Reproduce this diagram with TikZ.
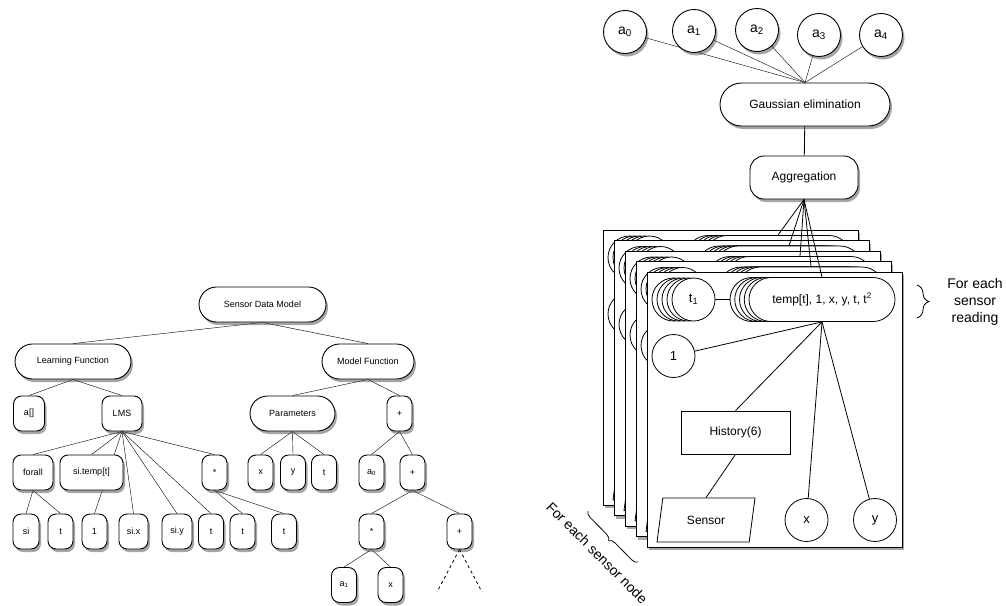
\documentclass[tikz,border=0pt]{standalone}
\usepackage{fontspec}
\setmainfont{Liberation Sans}
\usetikzlibrary{shapes.geometric, shapes.misc, shadows, backgrounds, decorations.pathreplacing}
\tikzset{
	shade/.style    ={drop shadow={shadow xshift=2pt, shadow yshift=-3pt, fill=black!70, opacity=0.5}},
	% left tree
	leaf/.style     ={rectangle, rounded corners=8pt, draw=black, line width=0.9pt, fill=white, minimum width=25pt, minimum height=35pt, inner sep=2pt, align=center, font=\fontsize{9}{11}\selectfont, shade},
	pill/.style     ={rounded rectangle, draw=black, line width=0.9pt, fill=white, minimum height=35pt, inner sep=2pt, align=center, font=\fontsize{9}{11}\selectfont, shade},
	% right side
	coef/.style     ={circle, draw=black, line width=0.9pt, fill=white, minimum size=43pt, inner sep=0pt, font=\fontsize{14}{16}\selectfont, shade},
	solver/.style   ={rounded rectangle, draw=black, line width=0.9pt, fill=white, minimum height=43pt, inner sep=2pt, shade},
	merge/.style    ={rectangle, rounded corners=14pt, draw=black, line width=0.9pt, fill=white, minimum height=43pt, inner sep=2pt, shade},
	page/.style     ={rectangle, draw=black, line width=0.9pt, fill=white, minimum width=255pt, minimum height=275pt, inner sep=0pt, shade},
	ring/.style     ={circle, draw=black, line width=0.8pt, fill=white, minimum size=43pt, inner sep=0pt, font=\fontsize{13}{15}\selectfont},
	vecpill/.style  ={rounded rectangle, draw=black, line width=0.8pt, fill=white, minimum width=150pt, minimum height=44pt, inner sep=2pt},
	histbox/.style  ={rectangle, draw=black, line width=0.8pt, fill=white, minimum width=109pt, minimum height=43pt},
	sensorbox/.style={trapezium, trapezium left angle=65, trapezium right angle=115, trapezium stretches body, draw=black, line width=0.8pt, fill=white, minimum width=98pt, minimum height=44pt, inner sep=2pt},
	bracket/.style  ={decorate, decoration={brace, amplitude=#1}, line width=0.8pt},
}

\begin{document}
\begin{tikzpicture}[x=1pt, y=-1pt, line width=0.8pt, font=\fontsize{12}{14}\selectfont]
	\useasboundingbox (0,0) rectangle (1006,605);
	% ---- left: sensor data model tree ----
	\node[pill, minimum width=131pt] (sdm)   at (262.5,304.5) {Sensor Data Model};
	\node[pill, minimum width=120pt] (learn) at (73,361.5)    {Learning Function};
	\node[pill, minimum width=96pt]  (model) at (368,361.5)   {Model Function};
	\node[leaf, minimum width=31pt]  (arr)   at (29,413.5)    {a[]};
	\node[leaf, minimum width=40pt]  (lms)   at (122,413.5)   {LMS};
	\node[pill, minimum width=89pt]  (param) at (292.5,413.5) {Parameters};
	\node[leaf] (plusA) at (399.5,413.5) {+};
	\node[leaf, minimum width=40pt] (forall) at (33,472.5)   {forall};
	\node[leaf, minimum width=63pt] (sitemp) at (91.5,472.5) {si.temp[t]};
	\node[leaf] (mulA)  at (214.5,472.5) {*};
	\node[leaf] (px)    at (260.5,472.5) {x};
	\node[leaf] (py)    at (293,472.5)   {y};
	\node[leaf] (pt)    at (324,472.5)   {t};
	\node[leaf] (azero) at (371.5,472.5) {a\textsubscript{0}};
	\node[leaf] (plusB) at (412.5,472.5) {+};
	\node[leaf, minimum width=26pt] (si)  at (26,531.5)    {si};
	\node[leaf] (tA)    at (60.5,531.5)  {t};
	\node[leaf] (one)   at (94.5,531.5)  {1};
	\node[leaf, minimum width=29pt] (six) at (133.5,531.5) {si.x};
	\node[leaf, minimum width=30pt] (siy) at (177,531.5)   {si.y};
	\node[leaf] (tB)    at (211,531.5)   {t};
	\node[leaf] (tC)    at (242.5,531.5) {t};
	\node[leaf] (tD)    at (284,531.5)   {t};
	\node[leaf] (mulB)  at (371.5,531.5) {*};
	\node[leaf] (plusC) at (459.5,531.5) {+};
	\node[leaf] (aone)  at (344,585)     {a\textsubscript{1}};
	\node[leaf] (xx)    at (390.5,585)   {x};
	\coordinate (dashL) at (437,592);
	\coordinate (dashR) at (482,592);
	\begin{scope}[on background layer]
		\foreach \a/\b in {sdm/learn, sdm/model, learn/arr, learn/lms, model/param, model/plusA,
			lms/forall, lms/sitemp, lms/one, lms/six, lms/siy, lms/tB, lms/mulA,
			forall/si, forall/tA, mulA/tC, mulA/tD, param/px, param/py, param/pt,
			plusA/azero, plusA/plusB, plusB/mulB, plusB/plusC, mulB/aone, mulB/xx}
			\draw (\a.south) -- (\b.north);
	\end{scope}
	\draw[dashed] (plusC.south) -- (dashL);
	\draw[dashed] (plusC.south) -- (dashR);

	% ---- right: coefficients ----
	\node[coef] (c0) at (625,32) {a\textsubscript{0}};
	\node[coef] (c1) at (694,31) {a\textsubscript{1}};
	\node[coef] (c2) at (757,30) {a\textsubscript{2}};
	\node[coef] (c3) at (819,35) {a\textsubscript{3}};
	\node[coef] (c4) at (881,35) {a\textsubscript{4}};
	\node[solver, minimum width=174pt] (gauss) at (805,104.5) {Gaussian elimination};
	\node[merge, minimum width=108pt]  (agg)   at (804,177.5) {Aggregation};
	\begin{scope}[on background layer]
		\foreach \i in {0,...,4}
			\draw (c\i) -- (gauss.north);
	\end{scope}
	\draw (gauss) -- (agg);

	% ---- stacked pages, one per sensor node ----
	\foreach \p in {0,...,4}{
		\begin{scope}[shift={({-11*(4-\p)},{-10.5*(4-\p)})}]
			\node[page] (page-\p) at (774.5,409.5) {};
			\foreach \k in {0,...,3}
				\node[ring] (tb-\p-\k) at ({673.5+5*\k},299.5) {};
			\node[ring] (t1-\p) at (693.5,299.5) {t\textsubscript{1}};
			\foreach \k in {0,...,3}
				\node[vecpill] (vb-\p-\k) at ({822-4.75*(4-\k)},299.5) {};
			\node[vecpill] (vec-\p) at (822,299.5) {temp[t], 1, x, y, t, t\textsuperscript{2}};
			\node[ring] (one-\p) at (673.5,356) {1};
			\node[histbox] (hist-\p) at (735.5,432.5) {History(6)};
			\node[sensorbox] (sens-\p) at (706,520) {Sensor};
			\node[ring] (x-\p) at (806.5,520) {x};
			\node[ring] (y-\p) at (875,520) {y};
			\draw (t1-\p) -- (vb-\p-0);
			\draw (vec-\p.south) -- (one-\p);
			\draw (vec-\p.south) -- (hist-\p.north);
			\draw (vec-\p.south) -- (x-\p);
			\draw (vec-\p.south) -- (y-\p);
			\draw (hist-\p.south) -- (sens-\p.north);
			\draw (agg.south) -- (vec-\p.north);
		\end{scope}
	}

	% ---- braces ----
	\coordinate (rdTop) at (917,285);
	\coordinate (rdBot) at (917,318);
	\draw[bracket=12pt] (rdTop) -- (rdBot);
	\node[align=center, font=\fontsize{14}{17}\selectfont] (reading) at (975,302) {For each\\sensor\\reading};
	\coordinate (ndTop) at (588,511);
	\coordinate (ndBot) at (638,562);
	\draw[bracket=6pt] (ndBot) -- (ndTop);
	\node[rotate=-45, font=\fontsize{14}{17}\selectfont] (perNode) at (597,553) {For each sensor node};
\end{tikzpicture}
\end{document}
